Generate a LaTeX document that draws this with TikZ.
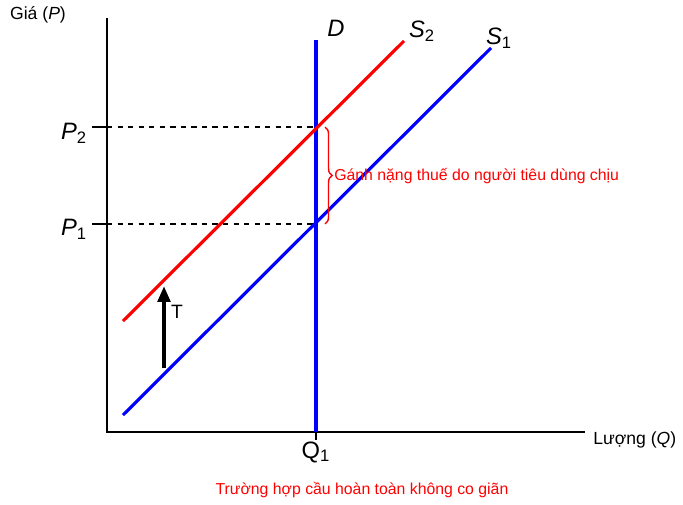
\documentclass[tikz,border=0pt]{standalone}
\usepackage{fontspec}
\setmainfont{Liberation Sans}
\usepackage{tikz}
\usetikzlibrary{arrows.meta, positioning, decorations.pathreplacing}

\begin{document}
\begin{tikzpicture}[x=0.02cm, y=-0.02cm, >=Triangle,
  axis/.style={line width=1.4pt, black},
  curve/.style={line width=1.8pt},
  guide/.style={dashed, line width=0.6pt},
  lbl/.style={font=\fontsize{13.5}{16}\selectfont\itshape},
  txt/.style={font=\fontsize{9}{11}\selectfont}]
\useasboundingbox (0,0) rectangle (683,504);

% Axes
\coordinate (origin) at (107,432);
\coordinate (ytop) at (107,18);
\coordinate (xend) at (585,432);
\draw[axis] (ytop) -- (origin) -- (xend);

% Price levels
\coordinate (p2tick) at (92,127);
\coordinate (p1tick) at (92,224);
\coordinate (p2axis) at (107,127);
\coordinate (p1axis) at (107,224);
\coordinate (e2) at (316,127);
\coordinate (e1) at (316,224);
\draw[axis] (p2tick) -- (p2axis);
\draw[axis] (p1tick) -- (p1axis);
\draw[guide] (p2axis) -- (e2);
\draw[guide] (p1axis) -- (e1);

% Demand (perfectly inelastic)
\coordinate (dtop) at (316,40);
\coordinate (dbot) at (316,432);
\coordinate (qtick) at (316,440);
\draw[curve, blue] (dtop) -- (dbot);
\draw[axis] (dbot) -- (qtick);

% Supply curves
\coordinate (s1a) at (123,415);
\coordinate (s1b) at (491,48);
\coordinate (s2a) at (123,321);
\coordinate (s2b) at (404,41);
\draw[curve, blue] (s1a) -- (s1b);
\draw[curve, red] (s2a) -- (s2b);

% Tax shift
\coordinate (tbot) at (164,368);
\coordinate (ttop) at (164,286);
\draw[-{Triangle[length=9pt, width=7pt]}, line width=2.6pt] (tbot) -- (ttop);
\node[anchor=west, font=\fontsize{11}{13}\selectfont] (tax) at (165,312) {T};

% Burden brace
\coordinate (btop) at (325,127);
\coordinate (bbot) at (325,224);
\draw[red, line width=0.8pt, decorate, decoration={brace, amplitude=4pt}] (btop) -- (bbot);
\node[txt, red, anchor=west, inner sep=0pt] (burden) at (334,176) {Gánh nặng thuế do người tiêu dùng chịu};

% Labels
\node[font=\fontsize{10}{12}\selectfont] (ylab) at (38,15) {Giá (\textit{P})};
\node[anchor=west, inner sep=0pt, font=\fontsize{10}{12}\selectfont] (xlab) at (593,440) {Lượng (\textit{Q})};
\node[lbl] (p2) at (74,133) {P\textsubscript{\upshape 2}};
\node[lbl] (p1) at (74,229) {P\textsubscript{\upshape 1}};
\node[font=\fontsize{13.5}{16}\selectfont] (q1) at (316,452) {Q\textsubscript{1}};
\node[lbl] (dlab) at (336,28) {D};
\node[lbl] (s2lab) at (422,31) {S\textsubscript{\upshape 2}};
\node[lbl] (s1lab) at (499,38) {S\textsubscript{\upshape 1}};

% Caption
\node[txt, red] (caption) at (362,490) {Trường hợp cầu hoàn toàn không co giãn};

\end{tikzpicture}
\end{document}
